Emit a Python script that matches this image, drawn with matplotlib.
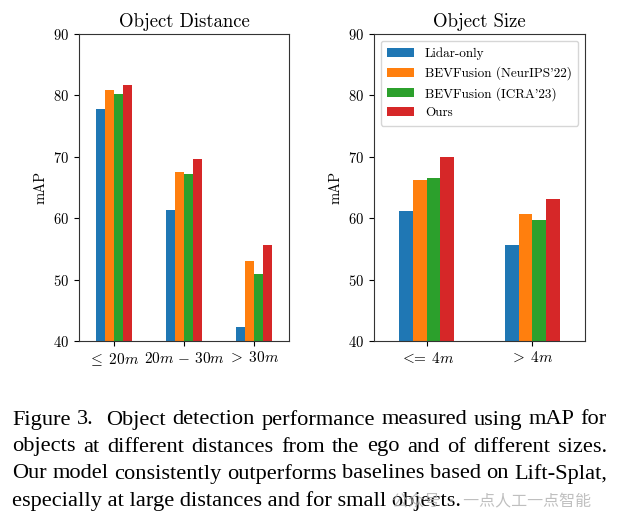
import numpy as np
import matplotlib
matplotlib.use("Agg")
import matplotlib.pyplot as plt

plt.rcParams["font.family"] = "serif"
plt.rcParams["font.serif"] = ["cmr10"]
plt.rcParams["mathtext.fontset"] = "cm"
plt.rcParams["axes.formatter.use_mathtext"] = True
plt.rcParams["axes.unicode_minus"] = False

METHODS = ["Lidar-only", "BEVFusion (NeurIPS'22)", "BEVFusion (ICRA'23)", "Ours"]
COLORS = ["#1f77b4", "#ff7f0e", "#2ca02c", "#d62728"]

DIST_LABELS = [r"$\leq\;20m$", r"$20m\,-\,30m$", r"$>\;30m$"]
DIST_VALUES = [
    [77.8, 61.3, 42.2],   # Lidar-only
    [80.9, 67.5, 53.0],   # BEVFusion (NeurIPS'22)
    [80.3, 67.2, 50.9],   # BEVFusion (ICRA'23)
    [81.7, 69.7, 55.6],   # Ours
]

SIZE_LABELS = [r"$<\!\!\!=\;4m$", r"$>\;4m$"]
SIZE_VALUES = [
    [61.2, 55.6],
    [66.2, 60.7],
    [66.5, 59.7],
    [70.0, 63.1],
]

CAPTION = [
    "Figure 3.  Object detection performance measured using mAP for",
    "objects at different distances from the ego and of different sizes.",
    "Our model consistently outperforms baselines based on Lift-Splat,",
    "especially at large distances and for small objects.",
]
WATERMARK = "公众号 · 一点人工一点智能"

W, H = 621, 529
fig = plt.figure(figsize=(W / 100, H / 100), dpi=100)


def px_axes(left, top, right, bottom):
    return fig.add_axes([left / W, 1 - bottom / H, (right - left) / W, (bottom - top) / H])


def grouped_bars(ax, labels, values, title, legend=False):
    x = np.arange(len(labels))
    width = 0.13
    for i, (name, vals) in enumerate(zip(METHODS, values)):
        ax.bar(x + (i - 1.5) * width, vals, width, color=COLORS[i], label=name)
    ax.set_xticks(x)
    ax.set_xticklabels(labels, fontsize=11)
    ax.set_xlim(-0.5, len(labels) - 0.5)
    ax.set_ylim(40, 90)
    ax.set_yticks(range(40, 91, 10))
    ax.tick_params(axis="y", labelsize=10.5)
    ax.set_ylabel("mAP", fontsize=10.5)
    ax.set_title(title, fontsize=13.5, pad=5)
    for s in ax.spines.values():
        s.set_color("#333333")
    if legend:
        ax.legend(loc="upper left", fontsize=9.5, handlelength=2.05, borderpad=0.5)


ax1 = px_axes(79, 34, 289, 341)
grouped_bars(ax1, DIST_LABELS, DIST_VALUES, "Object Distance")
ax2 = px_axes(374, 34, 585, 341)
grouped_bars(ax2, SIZE_LABELS, SIZE_VALUES, "Object Size", legend=True)

# justified caption below the plots
renderer = fig.canvas.get_renderer()
cap_left, cap_right = 12, 607
line_y = [420, 447, 474, 501]
cap_font = dict(family="Liberation Serif", fontsize=16.1, va="center", ha="left")
for k, line in enumerate(CAPTION):
    y = 1 - line_y[k] / H
    if k == len(CAPTION) - 1:
        fig.text(cap_left / W, y, line, **cap_font)
        continue
    words = line.split(" ")
    texts = [fig.text(0, y, w, **cap_font) for w in words]
    widths = [t.get_window_extent(renderer).width if w else 0 for t, w in zip(texts, words)]
    gap = (cap_right - cap_left - sum(widths)) / (len(words) - 1)
    xpos = cap_left
    for t, w in zip(texts, widths):
        t.set_x(xpos / W)
        xpos += w + gap

fig.text(392 / W, 1 - 502 / H, WATERMARK, family=["Noto Sans CJK SC", "DejaVu Sans"],
         fontsize=11.5, color="#b0b0b0", alpha=0.8, va="center", ha="left")

fig.savefig("out.png", dpi=100)
